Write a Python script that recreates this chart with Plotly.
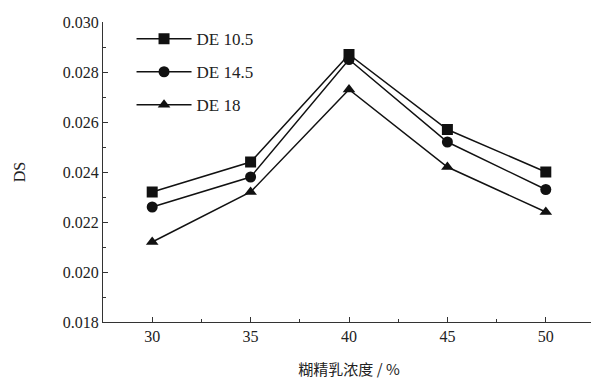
import plotly.graph_objects as go

x_vals = [30, 35, 40, 45, 50]
de105 = [0.0232, 0.0244, 0.0287, 0.0257, 0.0240]
de145 = [0.0226, 0.0238, 0.0285, 0.0252, 0.0233]
de18 = [0.0212, 0.0232, 0.0273, 0.0242, 0.0224]
names = ["DE 10.5", "DE 14.5", "DE 18"]
symbols = ["square", "circle", "triangle-up"]

fig = go.Figure()
for name, ys, sym in zip(names, [de105, de145, de18], symbols):
    fig.add_trace(go.Scatter(
        x=x_vals, y=ys, name=name, mode="lines+markers", legendgroup=name,
        line=dict(color="#111", width=1.5),
        marker=dict(symbol=sym, size=11, color="#111"),
    ))

font_serif = "'Liberation Serif', 'Times New Roman', serif"
fig.update_layout(
    width=591, height=373,
    margin=dict(l=95, r=4, t=14, b=59, autoexpand=False),
    plot_bgcolor="white", paper_bgcolor="white",
    font=dict(family=font_serif, size=16, color="#222"),
    showlegend=True,
    legend=dict(x=0.058, y=1.003, xanchor="left", yanchor="top",
                bgcolor="rgba(0,0,0,0)", font=dict(size=17, family=font_serif),
                itemwidth=55, tracegroupgap=8),
    xaxis=dict(range=[27.5, 52.5], tickvals=x_vals, showgrid=False, zeroline=False, automargin=False,
               showline=True, linecolor="#333", linewidth=1.2,
               ticks="inside", ticklen=5, tickcolor="#333",
               minor=dict(dtick=2.5, tick0=27.5, ticks="inside", ticklen=3, tickcolor="#333"),
               title=dict(text="糊精乳浓度 / %", font=dict(family="Noto Sans CJK SC", size=15), standoff=20)),
    yaxis=dict(range=[0.018, 0.030], dtick=0.002, tickformat=".3f", showgrid=False, zeroline=False, automargin=False,
               showline=True, linecolor="#333", linewidth=1.2,
               ticks="inside", ticklen=5, tickcolor="#333",
               minor=dict(dtick=0.001, ticks="inside", ticklen=3, tickcolor="#333"),
               title=dict(text="DS", font=dict(family=font_serif, size=16), standoff=33)),
)
fig.write_html("out.html")
